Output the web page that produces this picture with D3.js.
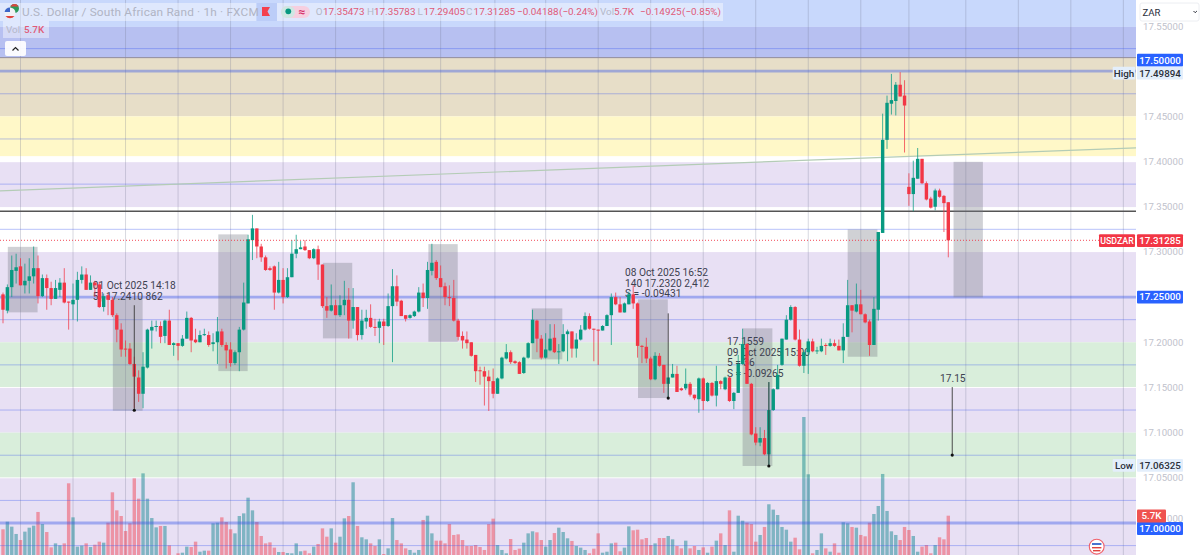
<!DOCTYPE html>
<html lang="en">
<head>
<meta charset="UTF-8">
<title>USDZAR 1h</title>
<script src="https://d3js.org/d3.v7.min.js"></script>
<style>
    html, body { margin: 0; padding: 0; background: #fff; overflow: hidden; }
    svg { display: block; font-family: Roboto, Arial, sans-serif; }
    .tick-axis text { fill: #bfc2cc; font-size: 9.6px; font-family: Roboto, Arial, sans-serif; }
    .note { fill: #3d4150; font-size: 10.2px; }
</style>
</head>
<body>
<svg id="chart" width="1200" height="555"></svg>
<script>
const opens = [17.253,17.235,17.261,17.279,17.284,17.263,17.268,17.273,17.282,17.251,
    17.271,17.260,17.248,17.258,17.266,17.245,17.242,17.247,17.269,17.275,
    17.258,17.266,17.264,17.239,17.252,17.247,17.230,17.214,17.193,17.193,
    17.176,17.161,17.143,17.172,17.213,17.217,17.218,17.207,17.224,17.197,
    17.199,17.196,17.204,17.227,17.203,17.200,17.208,17.208,17.198,17.200,
    17.212,17.197,17.192,17.177,17.189,17.214,17.243,17.313,17.326,17.306,
    17.294,17.282,17.284,17.255,17.269,17.250,17.272,17.298,17.303,17.306,
    17.302,17.293,17.303,17.286,17.240,17.235,17.241,17.230,17.241,17.247,
    17.224,17.239,17.208,17.223,17.227,17.217,17.216,17.223,17.218,17.240,
    17.262,17.246,17.230,17.227,17.229,17.234,17.255,17.249,17.279,17.289,
    17.271,17.262,17.250,17.249,17.224,17.207,17.203,17.200,17.186,17.169,
    17.168,17.162,17.157,17.143,17.160,17.182,17.189,17.179,17.178,17.166,
    17.183,17.199,17.224,17.204,17.183,17.191,17.205,17.189,17.190,17.209,
    17.212,17.193,17.203,17.214,17.229,17.215,17.214,17.213,17.218,17.230,
    17.250,17.242,17.233,17.242,17.253,17.243,17.196,17.195,17.182,17.159,
    17.185,17.175,17.154,17.161,17.165,17.149,17.149,17.154,17.142,17.137,
    17.160,17.135,17.155,17.141,17.157,17.148,17.161,17.135,17.144,17.176,
    17.198,17.154,17.099,17.089,17.094,17.076,17.125,17.148,17.175,17.203,
    17.225,17.239,17.203,17.174,17.189,17.201,17.190,17.190,17.197,17.196,
    17.199,17.196,17.191,17.206,17.241,17.234,17.242,17.231,17.223,17.197,
    17.236,17.321,17.424,17.464,17.467,17.485,17.473,17.372,17.364,17.381,
    17.403,17.376,17.359,17.350,17.368,17.362,17.355];

const highs = [17.255,17.264,17.296,17.298,17.293,17.287,17.293,17.306,17.296,17.275,
    17.275,17.267,17.269,17.271,17.282,17.245,17.265,17.278,17.284,17.282,
    17.274,17.268,17.267,17.254,17.254,17.250,17.232,17.221,17.202,17.199,
    17.184,17.169,17.189,17.215,17.224,17.224,17.223,17.225,17.236,17.200,
    17.199,17.208,17.234,17.228,17.215,17.213,17.215,17.212,17.210,17.228,
    17.215,17.200,17.200,17.191,17.217,17.266,17.319,17.341,17.326,17.309,
    17.296,17.284,17.285,17.289,17.282,17.282,17.313,17.319,17.312,17.313,
    17.302,17.304,17.307,17.286,17.250,17.264,17.247,17.252,17.268,17.260,
    17.260,17.239,17.236,17.236,17.242,17.226,17.226,17.226,17.254,17.281,
    17.274,17.247,17.230,17.231,17.235,17.261,17.265,17.289,17.309,17.291,
    17.285,17.266,17.263,17.269,17.226,17.212,17.212,17.200,17.186,17.173,
    17.173,17.169,17.171,17.161,17.184,17.198,17.191,17.180,17.179,17.184,
    17.200,17.236,17.225,17.208,17.210,17.220,17.220,17.198,17.220,17.214,
    17.212,17.210,17.219,17.233,17.232,17.215,17.214,17.219,17.231,17.254,
    17.255,17.250,17.244,17.256,17.263,17.244,17.197,17.205,17.184,17.189,
    17.188,17.175,17.161,17.176,17.174,17.150,17.171,17.156,17.142,17.161,
    17.161,17.156,17.156,17.174,17.158,17.162,17.162,17.145,17.186,17.215,
    17.199,17.155,17.106,17.106,17.103,17.156,17.149,17.175,17.204,17.230,
    17.241,17.240,17.214,17.191,17.204,17.204,17.195,17.204,17.199,17.204,
    17.203,17.203,17.221,17.269,17.241,17.265,17.258,17.232,17.225,17.250,
    17.322,17.453,17.473,17.497,17.488,17.49894,17.490,17.387,17.401,17.415,
    17.403,17.378,17.361,17.370,17.370,17.363,17.355];

const lows = [17.221,17.232,17.250,17.265,17.263,17.254,17.254,17.265,17.243,17.250,
    17.236,17.241,17.248,17.250,17.243,17.214,17.225,17.223,17.265,17.258,
    17.258,17.250,17.238,17.234,17.230,17.228,17.200,17.184,17.184,17.175,
    17.127,17.134,17.127,17.171,17.193,17.212,17.199,17.199,17.197,17.185,
    17.180,17.195,17.204,17.189,17.199,17.200,17.207,17.195,17.190,17.176,
    17.195,17.171,17.173,17.175,17.168,17.213,17.243,17.291,17.293,17.289,
    17.279,17.279,17.236,17.254,17.243,17.249,17.272,17.293,17.303,17.301,
    17.292,17.292,17.269,17.238,17.227,17.234,17.230,17.228,17.230,17.204,
    17.215,17.202,17.203,17.215,17.216,17.207,17.199,17.197,17.217,17.178,
    17.240,17.229,17.223,17.226,17.228,17.233,17.239,17.237,17.274,17.269,
    17.261,17.241,17.240,17.223,17.202,17.193,17.193,17.184,17.156,17.153,
    17.130,17.124,17.138,17.143,17.159,17.181,17.176,17.176,17.165,17.165,
    17.182,17.199,17.189,17.181,17.182,17.190,17.188,17.176,17.189,17.179,
    17.183,17.183,17.202,17.213,17.214,17.179,17.175,17.213,17.218,17.197,
    17.241,17.233,17.233,17.242,17.237,17.183,17.177,17.177,17.158,17.158,
    17.173,17.144,17.138,17.161,17.145,17.146,17.147,17.140,17.136,17.122,
    17.125,17.134,17.140,17.129,17.148,17.147,17.134,17.126,17.144,17.175,
    17.154,17.097,17.086,17.085,17.075,17.06325,17.124,17.148,17.174,17.203,
    17.224,17.202,17.173,17.166,17.165,17.189,17.187,17.189,17.186,17.195,
    17.195,17.191,17.177,17.206,17.211,17.233,17.231,17.221,17.185,17.197,
    17.224,17.321,17.414,17.452,17.451,17.472,17.410,17.351,17.345,17.381,
    17.375,17.357,17.348,17.346,17.360,17.322,17.294];

const closes = [17.236,17.261,17.280,17.283,17.263,17.268,17.273,17.282,17.251,17.271,
    17.260,17.248,17.260,17.266,17.244,17.244,17.247,17.269,17.275,17.258,
    17.266,17.263,17.239,17.251,17.247,17.230,17.214,17.192,17.192,17.176,
    17.162,17.143,17.173,17.214,17.217,17.218,17.206,17.224,17.197,17.199,
    17.196,17.204,17.227,17.202,17.200,17.208,17.209,17.197,17.200,17.212,
    17.197,17.191,17.177,17.189,17.214,17.244,17.314,17.326,17.306,17.294,
    17.280,17.280,17.255,17.269,17.250,17.272,17.298,17.303,17.305,17.302,
    17.293,17.303,17.286,17.240,17.235,17.241,17.230,17.241,17.247,17.224,
    17.239,17.208,17.224,17.227,17.217,17.216,17.223,17.218,17.240,17.262,
    17.245,17.229,17.226,17.230,17.234,17.255,17.249,17.280,17.288,17.271,
    17.261,17.250,17.249,17.224,17.206,17.202,17.199,17.185,17.168,17.168,
    17.162,17.157,17.143,17.160,17.183,17.189,17.178,17.177,17.165,17.183,
    17.199,17.225,17.204,17.183,17.192,17.204,17.189,17.190,17.209,17.212,
    17.193,17.203,17.214,17.229,17.215,17.214,17.213,17.218,17.230,17.250,
    17.242,17.233,17.243,17.253,17.243,17.196,17.195,17.182,17.159,17.185,
    17.174,17.154,17.161,17.165,17.145,17.147,17.154,17.142,17.138,17.160,
    17.135,17.155,17.141,17.157,17.154,17.161,17.135,17.144,17.176,17.198,
    17.154,17.098,17.089,17.094,17.076,17.125,17.148,17.164,17.204,17.225,
    17.239,17.203,17.174,17.189,17.201,17.190,17.191,17.196,17.196,17.199,
    17.196,17.191,17.206,17.241,17.235,17.242,17.231,17.222,17.197,17.237,
    17.322,17.424,17.465,17.468,17.485,17.472,17.462,17.364,17.382,17.403,
    17.376,17.358,17.349,17.368,17.361,17.354,17.31285];

// volume in thousands
const volumes = [3.95,4.93,4.29,3.35,2.57,3.65,4.16,4.42,6.18,4.63,
    3.6,1.63,2.14,1.89,2.14,9.87,5.49,1.72,1.85,2.14,
    1.67,1.97,2.36,2.23,4.8,8.71,6.39,5.66,3.73,4.72,
    10.51,7.89,11.15,7.89,5.4,4.2,4.38,4.38,1.89,0.43,
    0.86,0.94,1.72,1.67,2.36,1.07,1.2,1.2,4.72,4.8,
    5.49,4.89,3.95,3.43,5.66,6.0,8.02,6.39,4.89,3.09,
    2.14,2.27,1.59,1.03,1.03,0.9,0.86,2.14,1.12,1.2,
    0.86,1.72,2.06,4.07,3.0,4.07,2.23,3.0,5.36,5.66,
    10.0,4.38,2.92,2.66,2.14,1.8,2.66,0.77,1.5,5.4,
    2.57,2.14,1.5,1.29,0.94,1.29,5.15,5.7,3.43,2.49,
    2.49,2.14,4.63,3.22,3.3,2.57,1.8,1.8,1.93,1.67,
    1.29,4.63,5.32,1.93,1.29,0.86,2.7,1.29,1.46,2.23,
    3.43,3.69,3.56,2.57,1.72,2.57,3.47,4.16,3.6,2.79,
    2.45,1.8,1.59,1.29,0.86,1.46,3.43,0.94,1.07,2.14,
    2.23,1.12,1.59,4.33,3.82,3.9,2.66,2.83,1.93,2.14,
    2.83,2.83,3.09,2.66,1.8,1.5,2.49,1.5,1.8,1.29,
    1.63,0.94,1.72,2.49,3.43,1.93,6.39,1.07,5.7,5.06,
    4.8,4.63,2.36,3.22,4.25,7.17,6.48,5.79,4.25,3.9,
    2.36,2.87,1.37,18.4,11.03,0.86,1.29,3.43,1.5,1.07,
    2.14,0.94,4.85,4.72,4.25,4.16,3.22,3.05,4.8,5.92,
    6.95,11.07,6.31,3.69,3.22,2.57,4.25,3.86,3.09,1.07,
    1.72,1.93,0.86,1.93,2.92,2.66,5.7];

const axisTicks = [17.55, 17.45, 17.40, 17.35, 17.30, 17.20, 17.15, 17.10, 17.05];
const gridBars = [4, 16, 28, 40, 52, 64, 76, 87, 100, 112.4, 124, 136, 148, 160, 172, 184, 196, 207, 220, 232, 244, 256];
const thinLevels = [17.525, 17.475, 17.425, 17.375, 17.325, 17.225, 17.175, 17.125, 17.075, 17.025, 16.975];
const thickLevels = [17.5, 17.25, 17.0];
const lavenderZones = [[17.3993, 17.3496], [17.2998, 17.2], [17.1495, 17.1], [17.0495, 16.9]];
const greenZones = [[17.2, 17.1505], [17.1, 17.0505]];
const tanZone = [17.515, 17.45];
const yellowZone = [17.45, 17.406];
const periwinkleZone = [17.549, 17.515];
const skyZone = [17.6, 17.549];

// grey boxes: first bar, last bar, top price, bottom price
const boxes = [
    [1.1, 7.9, 17.3056, 17.2331],
    [25.1, 31.9, 17.2489, 17.1242],
    [49.2, 55.9, 17.3194, 17.1681],
    [73.1, 79.8, 17.2879, 17.2043],
    [97.2, 103.9, 17.3086, 17.2006],
    [120.8, 127.8, 17.2375, 17.1811],
    [145.1, 151.9, 17.2475, 17.1383],
    [169.0, 175.8, 17.2154, 17.0631],
    [193.0, 199.8, 17.3249, 17.184],
    [217.2, 223.9, 17.3997, 17.2497]
];
// vertical measure lines with a dot at the foot: bar, top price, bottom price
const measures = [
    [30, 17.2410, 17.1248],
    [152, 17.2320, 17.1383],
    [175, 17.1559, 17.0631],
    [216.9, 17.1504, 17.0752]
];
const trendBars = [-0.7, 258.9];
const trendPrices = [17.3676, 17.4152];
const lastClose = 17.31285;
const blackLevel = 17.345;
const highValue = 17.49894;
const lowValue = 17.06325;
const lastVolume = 5.7;

const width = 1136;
const svg = d3.select("#chart");

const x = d3.scaleLinear().domain([0, 216]).range([3, 948.3]);
const y = d3.scaleLinear().domain([17.55, 17.0]).range([26, 523]);
const yVol = d3.scaleLinear().domain([0, lastVolume]).range([560, 515.7]);

const green = "#089981";
const red = "#f23645";
const candles = opens.map((o, i) => ({ i, o, h: highs[i], l: lows[i], c: closes[i], v: volumes[i], up: closes[i] >= o }));

const plot = svg.append("g");
plot.append("rect").attr("width", width).attr("height", 555).attr("fill", "#fff");

function zone(range, color) {
    plot.append("rect")
        .attr("x", 0).attr("width", width)
        .attr("y", Math.max(0, y(range[0])))
        .attr("height", y(range[1]) - Math.max(0, y(range[0])))
        .attr("fill", color);
}
zone(skyZone, "#c8d8fc");
zone(periwinkleZone, "#b7c0f1");
zone(tanZone, "#e7dec8");
zone(yellowZone, "#fff8c8");
lavenderZones.forEach(z => zone(z, "#e8e0f4"));
greenZones.forEach(z => zone(z, "#d9eedb"));

plot.selectAll(".grid").data(gridBars).join("line")
    .attr("class", "grid")
    .attr("x1", d => x(d)).attr("x2", d => x(d))
    .attr("y1", 0).attr("y2", 555)
    .attr("stroke", "#6f7390").attr("stroke-opacity", 0.28);

// volume pane
plot.selectAll(".vol").data(candles).join("rect")
    .attr("class", "vol")
    .attr("x", d => x(d.i) - 1.7)
    .attr("width", 3.4)
    .attr("y", d => yVol(d.v))
    .attr("height", d => 560 - yVol(d.v))
    .attr("fill", d => d.up ? "#027f88" : red)
    .attr("fill-opacity", 0.45);

plot.selectAll(".thin").data(thinLevels).join("line")
    .attr("class", "thin")
    .attr("x1", 0).attr("x2", width)
    .attr("y1", d => y(d)).attr("y2", d => y(d))
    .attr("stroke", "#3f5cf0").attr("stroke-opacity", 0.36);

plot.selectAll(".thick").data(thickLevels).join("line")
    .attr("class", "thick")
    .attr("x1", 0).attr("x2", width)
    .attr("y1", d => y(d)).attr("y2", d => y(d))
    .attr("stroke", "#3c5ae6").attr("stroke-opacity", 0.42).attr("stroke-width", 2.8);

plot.append("line").attr("x1", 0).attr("x2", width)
    .attr("y1", y(tanZone[0])).attr("y2", y(tanZone[0]))
    .attr("stroke", "#8f8a9c");

plot.append("line").attr("x1", 0).attr("x2", width)
    .attr("y1", y(blackLevel)).attr("y2", y(blackLevel))
    .attr("stroke", "#555").attr("stroke-width", 1.3);

plot.append("line")
    .attr("x1", x(trendBars[0])).attr("x2", x(trendBars[1]))
    .attr("y1", y(trendPrices[0])).attr("y2", y(trendPrices[1]))
    .attr("stroke", "#b4ccb6").attr("stroke-width", 1.2);

plot.selectAll(".box").data(boxes).join("rect")
    .attr("class", "box")
    .attr("x", d => x(d[0]))
    .attr("width", d => x(d[1]) - x(d[0]))
    .attr("y", d => y(d[2]))
    .attr("height", d => y(d[3]) - y(d[2]))
    .attr("fill", "#787b86").attr("fill-opacity", 0.35);

// notes sit under the candles
const notes = [
    ["01 Oct 2025 14:18", 92.7, 288.5],
    ["5 | 17.2410 862", 92.7, 299.5],
    ["08 Oct 2025 16:52", 625, 275.5],
    ["140 17.2320 2,412", 625, 286.5],
    ["S = -0.09431", 625, 297],
    ["17.1559", 727, 344.5],
    ["09 Oct 2025 15:00", 727, 355.5],
    ["5 = 36", 727, 366],
    ["S = -0.09265", 727, 376.5],
    ["17.15", 940, 381.5]
];
plot.selectAll(".note").data(notes).join("text")
    .attr("class", "note")
    .attr("x", d => d[1]).attr("y", d => d[2])
    .text(d => d[0]);

plot.selectAll(".wick").data(candles).join("line")
    .attr("class", "wick")
    .attr("x1", d => x(d.i)).attr("x2", d => x(d.i))
    .attr("y1", d => y(d.h)).attr("y2", d => y(d.l))
    .attr("stroke", d => d.up ? green : red)
    .attr("stroke-opacity", 0.75);

plot.selectAll(".body").data(candles).join("rect")
    .attr("class", "body")
    .attr("x", d => x(d.i) - 1.7)
    .attr("width", 3.4)
    .attr("y", d => y(Math.max(d.o, d.c)))
    .attr("height", d => Math.max(1, Math.abs(y(d.o) - y(d.c))))
    .attr("fill", d => d.up ? green : red);

plot.selectAll(".measure").data(measures).join("line")
    .attr("class", "measure")
    .attr("x1", d => x(d[0])).attr("x2", d => x(d[0]))
    .attr("y1", d => y(d[1])).attr("y2", d => y(d[2]))
    .attr("stroke", "#3a3a3a").attr("stroke-width", 0.9);
plot.selectAll(".foot").data(measures).join("circle")
    .attr("class", "foot")
    .attr("cx", d => x(d[0])).attr("cy", d => y(d[2])).attr("r", 1.6)
    .attr("fill", "#111");

plot.append("line").attr("x1", 0).attr("x2", width)
    .attr("y1", y(lastClose)).attr("y2", y(lastClose))
    .attr("stroke", red).attr("stroke-dasharray", "1 2").attr("stroke-width", 0.9);

// price axis
svg.append("rect").attr("x", width).attr("width", 64).attr("height", 555).attr("fill", "#fff");
const axis = d3.axisRight(y).tickValues(axisTicks).tickFormat(d3.format(".5f")).tickSize(0).tickPadding(0);
const axisG = svg.append("g").attr("class", "tick-axis").attr("transform", "translate(1143,0)").call(axis);
axisG.select(".domain").remove();
axisG.selectAll("text").attr("font-family", null);
// the rest of the 17.00000 tick is covered by its tags
svg.append("text").attr("x", 1167).attr("y", 522).attr("font-size", 9.6).attr("fill", "#bfc2cc").text("000");

function tag(xPos, w, cy, label, fill, color, size) {
    svg.append("rect").attr("x", xPos).attr("y", cy - 6.4).attr("width", w).attr("height", 12.8)
        .attr("rx", 1).attr("fill", fill);
    svg.append("text").attr("x", xPos + w / 2).attr("y", cy + 3.4)
        .attr("text-anchor", "middle").attr("font-size", size || 9.8).attr("font-weight", 500)
        .attr("fill", color).text(label);
}
const blue = "#2962ff";
const fmt = d3.format(".5f");
tag(1137, 46, y(17.5) - 11, fmt(17.5), blue, "#fff");
tag(1137, 46, y(17.25), fmt(17.25), blue, "#fff");
tag(1137, 46, y(17.0) + 5.5, fmt(17.0), blue, "#fff");
tag(1137, 46, y(lastClose) + 0.3, fmt(lastClose), red, "#fff");
tag(1099, 36, y(lastClose) + 0.3, "USDZAR", red, "#fff", 8.8);
tag(1137, 29, y(17.0) - 7, lastVolume + "K", "#ef5350", "#fff");
tag(1137, 46, y(highValue) + 1, fmt(highValue), "#e3eefb", "#2a2e39");
tag(1112.7, 22.5, y(highValue) + 1, "High", "#e3eefb", "#2a2e39");
tag(1137, 46, y(lowValue) - 0.5, fmt(lowValue), "#e3eefb", "#2a2e39");
tag(1112.7, 22.5, y(lowValue) - 0.5, "Low", "#e3eefb", "#2a2e39");

// currency selector
svg.append("rect").attr("x", 1140).attr("y", 3).attr("width", 59).attr("height", 18).attr("rx", 2)
    .attr("fill", "#fff").attr("stroke", "#eceef2");
svg.append("text").attr("x", 1142.5).attr("y", 15.5).attr("font-size", 9.6).attr("fill", "#2a2e39").text("ZAR");
svg.append("path").attr("d", "M1193.5 11l1.7 1.7 1.7-1.7").attr("fill", "none").attr("stroke", "#2a2e39");

// header legend
svg.append("rect").attr("x", 0).attr("y", 3).attr("width", 256).attr("height", 18).attr("fill", "#fff").attr("fill-opacity", 0.42);
svg.append("rect").attr("x", 277).attr("y", 3).attr("width", 446).attr("height", 18).attr("fill", "#fff").attr("fill-opacity", 0.42);
svg.append("rect").attr("x", 257).attr("y", 3).attr("width", 20).attr("height", 18).attr("fill", "#bccdf8");
svg.append("rect").attr("x", 3).attr("y", 21).attr("width", 46).attr("height", 17).attr("fill", "#fff").attr("fill-opacity", 0.42);

svg.append("text").attr("x", 22).attr("y", 16).attr("font-size", 11.8).attr("fill", "#b0b4c4")
    .attr("letter-spacing", 0.18).text("U.S. Dollar / South African Rand · 1h · FXCM");

const faint = "#b4b8c8";
const soft = "#e05a78";
const legend = [
    ["O", 315.7, faint], ["17.35473", 323, soft], ["H", 367, faint], ["17.35783", 374, soft],
    ["L", 417.6, faint], ["17.29405", 423.6, soft], ["C", 466, faint], ["17.31285", 473.6, soft],
    ["−0.04188", 517, soft], ["(−0.24%)", 559, soft], ["Vol", 600, faint], ["5.7K", 614, soft],
    ["−0.14925", 640, soft], ["(−0.85%)", 682, soft]
];
svg.selectAll(".legend").data(legend).join("text")
    .attr("class", "legend")
    .attr("x", d => d[1]).attr("y", 15)
    .attr("font-size", 9.9)
    .attr("fill", d => d[2])
    .text(d => d[0]);
svg.append("text").attr("x", 6).attr("y", 33).attr("font-size", 9.9).attr("fill", faint).text("Vol");
svg.append("text").attr("x", 24).attr("y", 33).attr("font-size", 9.9).attr("font-weight", 500).attr("fill", soft).text("5.7K");

// icons
svg.append("path").attr("d", "M262 7h8l-2.5 4.5 2.5 4.5h-8z").attr("fill", "#f4404e");
svg.append("rect").attr("x", 281).attr("y", 6).attr("width", 29).attr("height", 12).attr("rx", 6).attr("fill", "#f6cfe0");
svg.append("rect").attr("x", 281).attr("y", 6).attr("width", 14).attr("height", 12).attr("rx", 6).attr("fill", "#cfe7e3");
svg.append("circle").attr("cx", 288.3).attr("cy", 11.3).attr("r", 2.9).attr("fill", green);
svg.append("text").attr("x", 302).attr("y", 15.5).attr("text-anchor", "middle").attr("font-size", 12).attr("font-weight", 700).attr("fill", "#d6336c").text("≈");
svg.append("circle").attr("cx", 14.5).attr("cy", 8.5).attr("r", 4.5).attr("fill", "#2c9a5a");
svg.append("path").attr("d", "M10.5 6.5a4.5 4.5 0 0 1 8 0z").attr("fill", "#e0433f");
svg.append("circle").attr("cx", 10).attr("cy", 13).attr("r", 5.5).attr("fill", "#f1f1f5");
svg.append("path").attr("d", "M4.6 12a5.5 5.5 0 0 1 5.4-4.5v4.5z").attr("fill", "#3b65c8");
svg.append("path").attr("d", "M5.5 16h9a5.5 5.5 0 0 1-9 0z").attr("fill", "#e0433f");

svg.append("rect").attr("x", 5).attr("y", 41).attr("width", 21).attr("height", 15).attr("rx", 2).attr("fill", "#fff").attr("fill-opacity", 0.92);
svg.append("path").attr("d", "M12.5 50.5l3-3 3 3").attr("fill", "none").attr("stroke", "#222").attr("stroke-width", 1.2);

// event marker at the bottom of the plot
svg.append("circle").attr("cx", 1096.7).attr("cy", 546.7).attr("r", 7.4).attr("fill", "#fff").attr("stroke", "#f0606a").attr("stroke-width", 1.1);
svg.append("rect").attr("x", 1092).attr("y", 543).attr("width", 9.4).attr("height", 2).attr("fill", "#4a74d0");
svg.append("rect").attr("x", 1092).attr("y", 547).attr("width", 9.4).attr("height", 1.4).attr("fill", "#e0433f");
svg.append("rect").attr("x", 1093).attr("y", 550).attr("width", 7.4).attr("height", 1.4).attr("fill", "#e0433f");
</script>
</body>
</html>
